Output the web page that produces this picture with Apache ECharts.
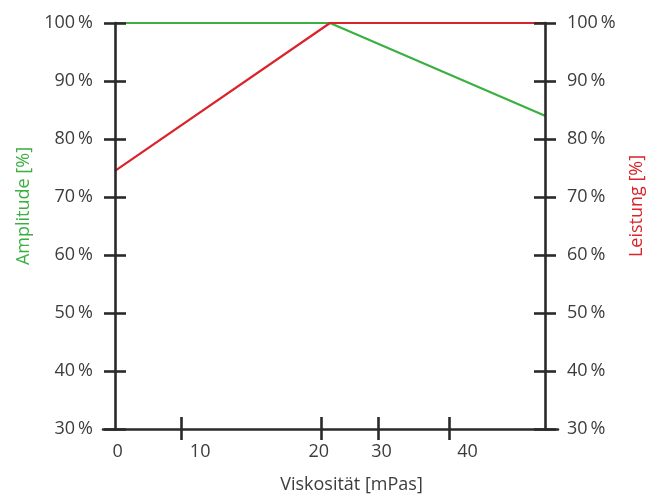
<!DOCTYPE html>
<html><head><meta charset="utf-8">
<script src="https://cdn.jsdelivr.net/npm/echarts@6/dist/echarts.min.js"></script>
<style>html,body{margin:0;padding:0;background:#fff}#c{width:650px;height:498px}</style>
</head><body><div id="c"></div>
<script>
// schematic x positions (0 = left axis, 100 = right axis)
const pointPos = [0, 50, 100];
const amplitude = [100, 100, 84];
const leistung = [74.5, 100, 100];
const xTickPos = [15.3, 47.9, 61.2, 77.7];
const xLabelPos = [0.6, 19.8, 47.4, 62.0, 82.0];
const xLabels = ['0', '10', '20', '30', '40'];
const yTicks = [30, 40, 50, 60, 70, 80, 90, 100];

const AX = '#2a2a2a', TXT = '#3c3c3c', GREEN = '#3bb041', RED = '#d8242a';
const FONT = 'Open Sans';
const xMin = -12 / 4.3, xMax = 100 + 13 / 4.3;

function yAxis(pos, inside, showLabel, name, color) {
  return {
    type: 'value', position: pos, min: 30, max: 100, interval: 10,
    offset: pos === 'left' ? -12 : -13, z: 5,
    axisLine: { show: !inside, lineStyle: { color: AX, width: 2.6 } },
    axisTick: { show: true, inside: inside, length: 11, lineStyle: { color: AX, width: 2.6 } },
    axisLabel: { show: showLabel, margin: 22, color: TXT, fontFamily: FONT, fontSize: 18,
      padding: [4, 0, 0, 0], formatter: v => v + '\u2009%' },
    splitLine: { show: false },
    name: name, nameLocation: 'middle', nameRotate: 90,
    nameGap: pos === 'left' ? 74 : 83,
    nameTextStyle: { color: color, fontFamily: FONT, fontSize: 18, padding: [0, 0, 0, 40] }
  };
}

const option = {
  animation: false,
  grid: { left: 103, right: 92, top: 23, bottom: 69, outerBoundsMode: 'none', containLabel: false },
  xAxis: [
    { type: 'value', min: xMin, max: xMax, position: 'bottom', z: 5,
      axisLine: { show: true, onZero: false, lineStyle: { color: AX, width: 2.6 } },
      axisTick: { show: true, inside: false, length: 11, customValues: xTickPos, lineStyle: { color: AX, width: 2.6 } },
      axisLabel: { show: true, customValues: xLabelPos, margin: 14, color: TXT, fontFamily: FONT, fontSize: 18,
        formatter: v => { const i = xLabelPos.indexOf(v); return i >= 0 ? xLabels[i] : ''; } },
      splitLine: { show: false },
      name: 'Viskosität [mPas]', nameLocation: 'middle', nameGap: 47,
      nameTextStyle: { color: TXT, fontFamily: FONT, fontSize: 18, padding: [0, 0, 0, 42] } },
    { type: 'value', min: xMin, max: xMax, position: 'bottom', z: 5,
      axisLine: { show: false, onZero: false },
      axisTick: { show: true, inside: true, length: 12, customValues: xTickPos, lineStyle: { color: AX, width: 2.6 } },
      axisLabel: { show: false }, splitLine: { show: false } }
  ],
  yAxis: [
    yAxis('left', false, true, 'Amplitude [%]', GREEN),
    yAxis('left', true, false, '', GREEN),
    yAxis('right', false, true, 'Leistung [%]', RED),
    yAxis('right', true, false, '', RED)
  ],
  series: [
    { type: 'line', name: 'Amplitude', xAxisIndex: 0, yAxisIndex: 0, clip: false, z: 2,
      data: pointPos.map((x, i) => [x, amplitude[i]]), showSymbol: false,
      lineStyle: { color: GREEN, width: 2.2 } },
    { type: 'line', name: 'Leistung', xAxisIndex: 0, yAxisIndex: 2, clip: false, z: 3,
      data: pointPos.map((x, i) => [x, leistung[i]]), showSymbol: false,
      lineStyle: { color: RED, width: 2.2 } }
  ]
};
const chart = echarts.init(document.getElementById('c'), null, { renderer: 'canvas' });
chart.setOption(option);
</script></body></html>
